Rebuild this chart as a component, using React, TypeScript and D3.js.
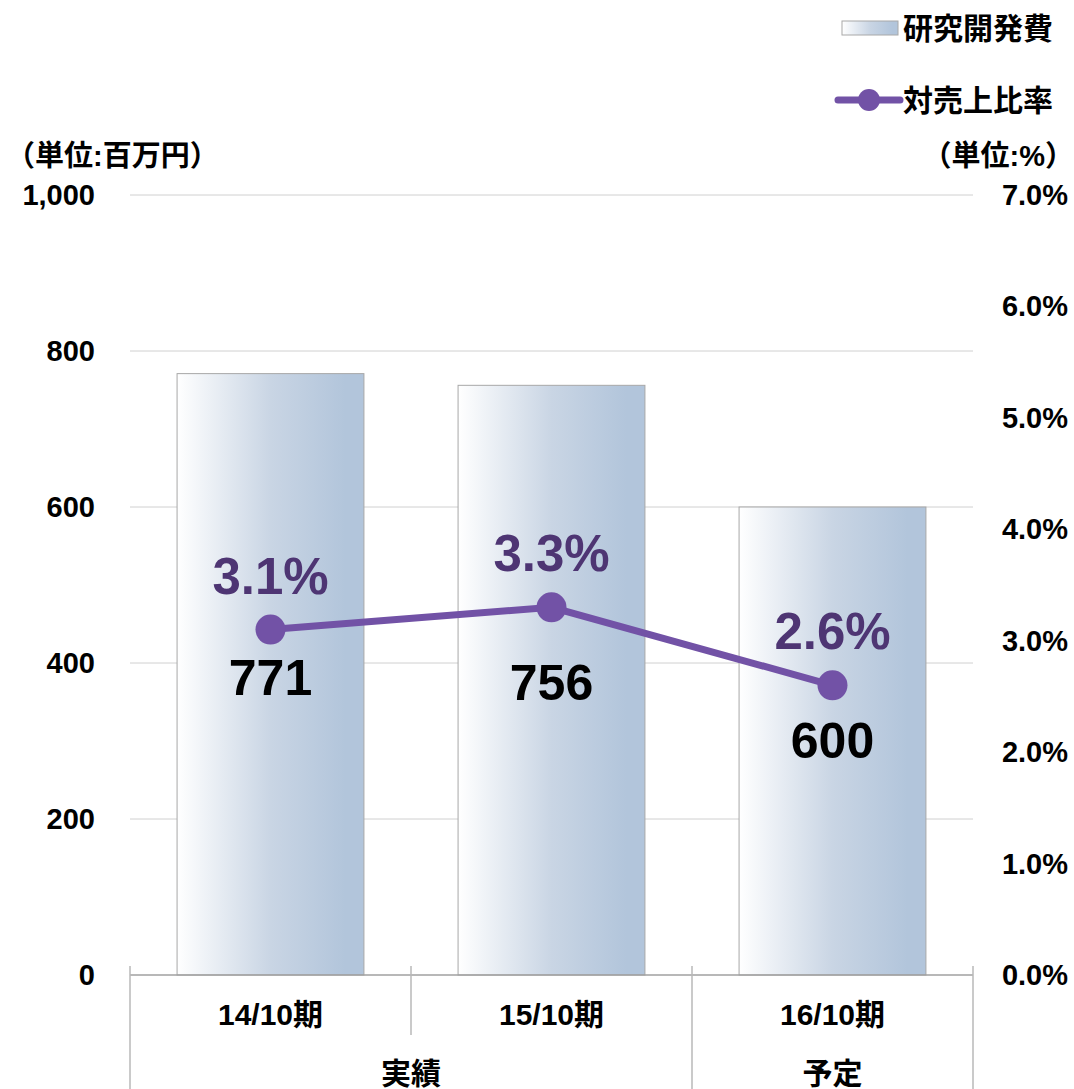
import React from "react";
import * as d3 from "d3";

const categories = ["14/10期", "15/10期", "16/10期"];
const groups = [
  { label: "実績", from: 0, to: 1 },
  { label: "予定", from: 2, to: 2 },
];
const rdValues = [771, 756, 600];
const ratioValues = [3.1, 3.3, 2.6];
const leftTicks = [0, 200, 400, 600, 800, 1000];
const rightTicks = [0, 1, 2, 3, 4, 5, 6, 7];
const seriesNames = ["研究開発費", "対売上比率"];
// vertical offsets (px) of the amount labels below each line marker
const amountLabelOffsets = [65, 93, 73];

const W = 1074;
const H = 1089;
const M = { left: 130, right: 973, top: 195, bottom: 975 };
const NUM = "'Liberation Sans', Arial, 'Noto Sans CJK JP', sans-serif";
const CJK = "'Liberation Sans', Arial, 'Noto Sans CJK JP', sans-serif";
const LINE = "#7252a6";
const LABEL_P = "#4e3573";

export default function App() {
  const x = d3.scaleBand<string>().domain(categories).range([M.left, M.right]).paddingInner(0).paddingOuter(0);
  const yL = d3.scaleLinear().domain([0, 1000]).range([M.bottom, M.top]);
  const yR = d3.scaleLinear().domain([0, 7]).range([M.bottom, M.top]);
  const bw = x.bandwidth() * 0.665;
  const cx = (c: string) => (x(c) as number) + x.bandwidth() / 2;
  const line = d3
    .line<number>()
    .x((_, i) => cx(categories[i]))
    .y((d) => yR(d));
  const fmtL = d3.format(",");

  return (
    <svg width={W} height={H} style={{ position: "absolute", left: 0, top: 0 }}>
      <defs>
        <linearGradient id="barGrad" x1="0" x2="1" y1="0" y2="0">
          <stop offset="0" stopColor="#ffffff" />
          <stop offset="0.5" stopColor="#c9d5e4" />
          <stop offset="0.9" stopColor="#b2c5db" />
          <stop offset="1" stopColor="#b2c5db" />
        </linearGradient>
      </defs>
      <rect width={W} height={H} fill="#fff" />
      {leftTicks.slice(1).map((t) => (
        <line key={t} x1={M.left} x2={M.right} y1={yL(t)} y2={yL(t)} stroke="#d0d0d0" strokeWidth={1} />
      ))}
      {rdValues.map((v, i) => (
        <rect
          key={i}
          x={cx(categories[i]) - bw / 2}
          y={yL(v)}
          width={bw}
          height={yL(0) - yL(v)}
          fill="url(#barGrad)"
          stroke="#a8a8a8"
          strokeWidth={1}
        />
      ))}
      <line x1={M.left} x2={M.right} y1={M.bottom} y2={M.bottom} stroke="#a0a0a0" strokeWidth={1.5} />
      {categories.map((c, i) => {
        const xl = x(c) as number;
        const isGroupEdge = groups.some((g) => g.from === i);
        return (
          <line
            key={c}
            x1={xl}
            x2={xl}
            y1={M.bottom - 9}
            y2={isGroupEdge ? H : 1035}
            stroke="#b8b8b8"
            strokeWidth={1.5}
          />
        );
      })}
      <line x1={M.right} x2={M.right} y1={M.bottom - 9} y2={H} stroke="#b8b8b8" strokeWidth={1.5} />
      {categories.map((c) => (
        <text key={c} x={cx(c)} y={1025} textAnchor="middle" fontFamily={CJK} fontWeight="bold" fontSize={30}>
          {c}
        </text>
      ))}
      {groups.map((g) => {
        const gx = ((x(categories[g.from]) as number) + (x(categories[g.to]) as number) + x.bandwidth()) / 2;
        return (
          <text key={g.label} x={gx} y={1084} textAnchor="middle" fontFamily={CJK} fontWeight="bold" fontSize={30}>
            {g.label}
          </text>
        );
      })}
      {leftTicks.map((t) => (
        <text key={t} x={95} y={yL(t) + 10} textAnchor="end" fontFamily={NUM} fontWeight="bold" fontSize={29}>
          {fmtL(t)}
        </text>
      ))}
      {rightTicks.map((t) => (
        <text key={t} x={1068} y={yR(t) + 10} textAnchor="end" fontFamily={NUM} fontWeight="bold" fontSize={29}>
          {t.toFixed(1) + "%"}
        </text>
      ))}
      <text x={6} y={166} fontFamily={CJK} fontWeight="bold" fontSize={29}>（単位:百万円）</text>
      <text x={1074} y={166} textAnchor="end" fontFamily={CJK} fontWeight="bold" fontSize={29}>（単位:%）</text>
      <path d={line(ratioValues) || ""} fill="none" stroke={LINE} strokeWidth={7} />
      {ratioValues.map((v, i) => (
        <circle key={i} cx={cx(categories[i])} cy={yR(v)} r={15} fill={LINE} />
      ))}
      {ratioValues.map((v, i) => (
        <text key={i} x={cx(categories[i])} y={yR(v) - 36} textAnchor="middle" fontFamily={NUM} fontWeight="bold" fontSize={51} fill={LABEL_P}>
          {v.toFixed(1) + "%"}
        </text>
      ))}
      {rdValues.map((v, i) => (
        <text key={i} x={cx(categories[i])} y={yR(ratioValues[i]) + amountLabelOffsets[i]} textAnchor="middle" fontFamily={NUM} fontWeight="bold" fontSize={50} fill="#000">
          {v}
        </text>
      ))}
      <rect x={842} y={21} width={56} height={14} fill="url(#barGrad)" stroke="#a8a8a8" strokeWidth={1} />
      <text x={903} y={39} fontFamily={CJK} fontWeight="bold" fontSize={30}>{seriesNames[0]}</text>
      <line x1={838} x2={900} y1={100} y2={100} stroke={LINE} strokeWidth={7} strokeLinecap="round" />
      <circle cx={869} cy={100} r={11} fill={LINE} />
      <text x={903} y={111} fontFamily={CJK} fontWeight="bold" fontSize={30}>{seriesNames[1]}</text>
    </svg>
  );
}
